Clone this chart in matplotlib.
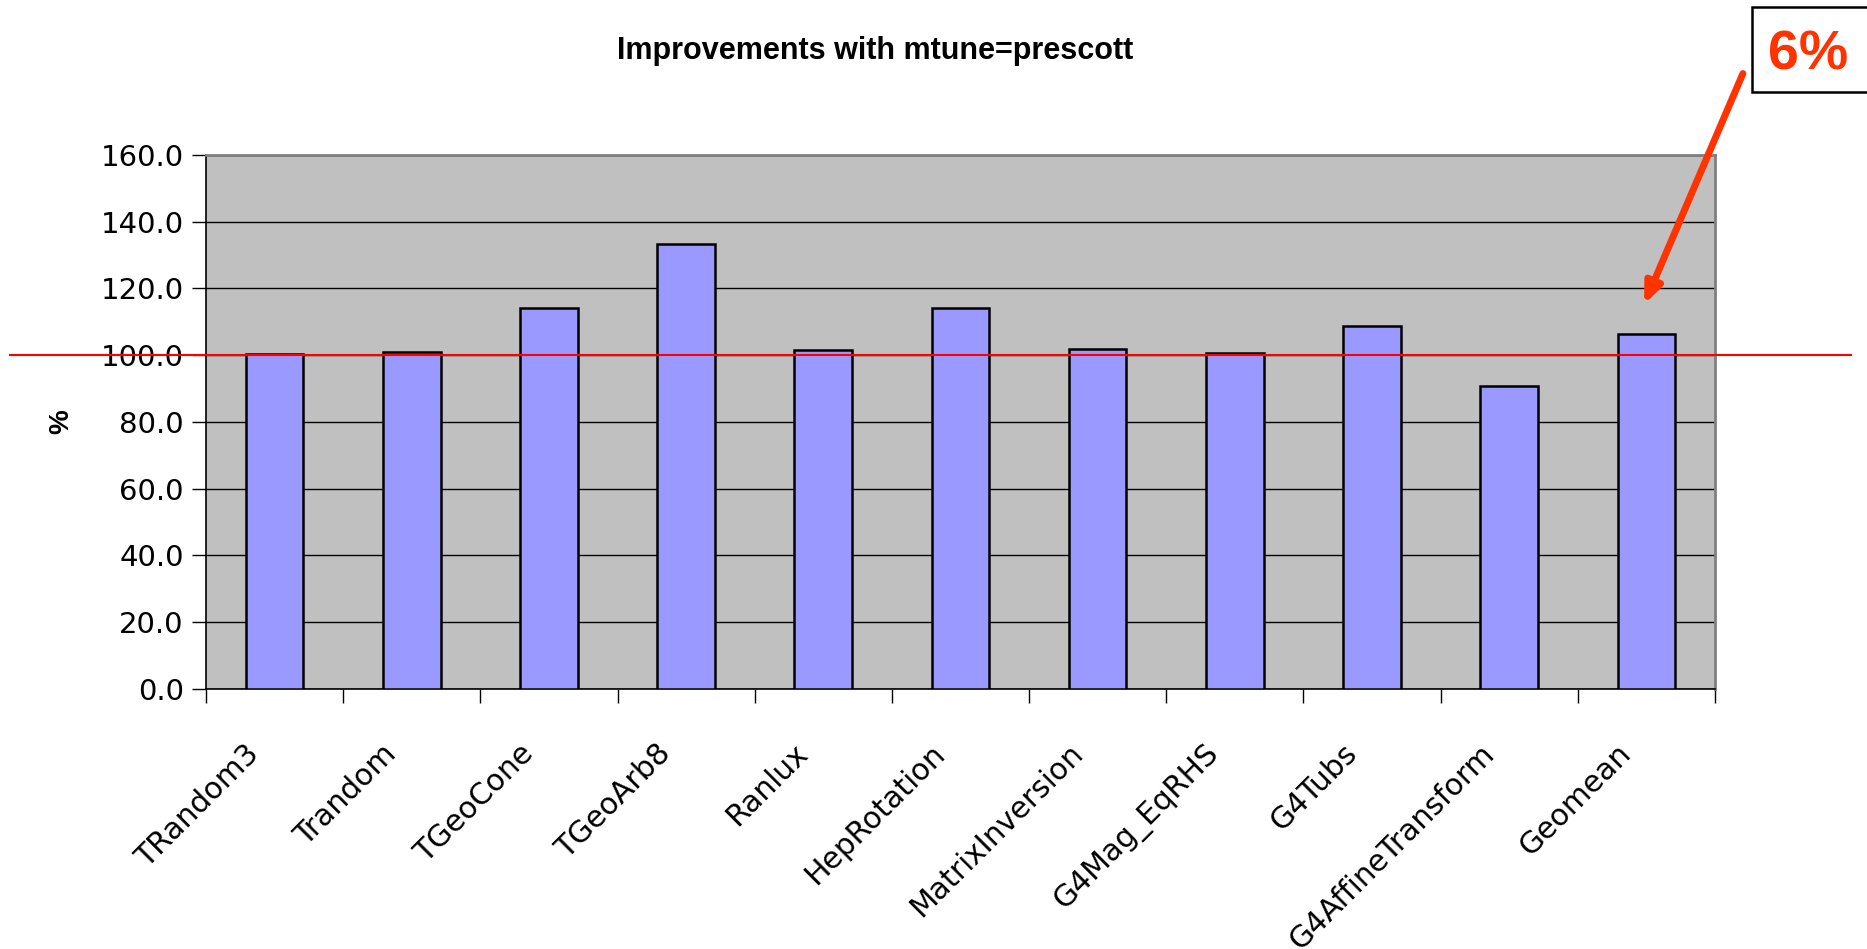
import numpy as np
import matplotlib.pyplot as plt
import matplotlib.transforms as mtransforms
from matplotlib.patches import Rectangle

# benchmark results relative to baseline (baseline = 100)
tests = ['TRandom3', 'Trandom', 'TGeoCone', 'TGeoArb8', 'Ranlux', 'HepRotation',
         'MatrixInversion', 'G4Mag_EqRHS', 'G4Tubs', 'G4AffineTransform', 'Geomean']
ratio = [100.4, 101.0, 114.1, 133.3, 101.7, 114.1, 101.8, 100.6, 108.8, 90.8, 106.3]
yticks = np.arange(0, 161, 20)
baseline = 100

fig = plt.figure(figsize=(18.67, 9.49), dpi=100)
ax = fig.add_axes([0.1103, 0.274, 0.8083, 0.5627])
ax.set_facecolor('#C0C0C0')

x = np.arange(len(tests))
ax.bar(x, ratio, width=0.42, color='#9999FF', edgecolor='black', linewidth=1.8, zorder=3)

ax.set_xlim(-0.5, len(tests) - 0.5)
ax.set_ylim(0, 160)
ax.set_yticks(yticks)
ax.set_yticklabels(['%.1f' % v for v in yticks], fontsize=21)
ax.yaxis.grid(True, color='black', linewidth=1, zorder=0)
ax.set_axisbelow(True)

# category ticks sit between the bars, labels under the bars
ax.set_xticks(np.arange(len(tests) + 1) - 0.5)
ax.set_xticklabels([])
ax.set_xticks(x, minor=True)
ax.set_xticklabels(tests, minor=True, rotation=45, ha='right', rotation_mode='anchor', fontsize=21.5)
ax.tick_params(axis='x', which='minor', length=0, pad=36)
ax.tick_params(axis='x', which='major', length=10, width=1)
ax.tick_params(axis='y', length=10, width=1, pad=6)

# nudge the slanted labels left so they end just before the bar centre
shift = mtransforms.ScaledTranslation(-0.30, 0, fig.dpi_scale_trans)
for lbl in ax.get_xticklabels(minor=True):
    lbl.set_transform(lbl.get_transform() + shift)

for s in ['left', 'bottom']:
    ax.spines[s].set_color('black')
    ax.spines[s].set_linewidth(1.2)
for s in ['top', 'right']:
    ax.spines[s].set_color('#808080')
    ax.spines[s].set_linewidth(2)

ax.set_ylabel('%', fontsize=20, fontweight='bold', family='Liberation Sans')
ax.yaxis.set_label_coords(-0.087, 0.5)

# 100% reference line running across the whole slide
ax.axhline(baseline, xmin=-0.130, xmax=1.09, color='red', linewidth=1.5, clip_on=False, zorder=5)

fig.text(0.469, 0.946, 'Improvements with mtune=prescott', ha='center', va='center',
         fontsize=22, fontweight='bold', family='Liberation Sans')

# call-out box with the geomean gain
fig.add_artist(Rectangle((1752, 949 - 92), 200, 85, transform=None,
                         facecolor='white', edgecolor='black', linewidth=1.8))
fig.text(1808 / 1867, 1 - 55 / 949, '6%', ha='center', va='center', fontsize=40,
         fontweight='bold', color='#FF3300', family='Liberation Sans')
ax.annotate('', xy=(1643, 949 - 307), xycoords='figure pixels',
            xytext=(1744, 949 - 71), textcoords='figure pixels',
            arrowprops=dict(arrowstyle='-|>,head_length=1.2,head_width=0.5', color='#FF3300', linewidth=5))

fig.savefig('out.png', dpi=100)
